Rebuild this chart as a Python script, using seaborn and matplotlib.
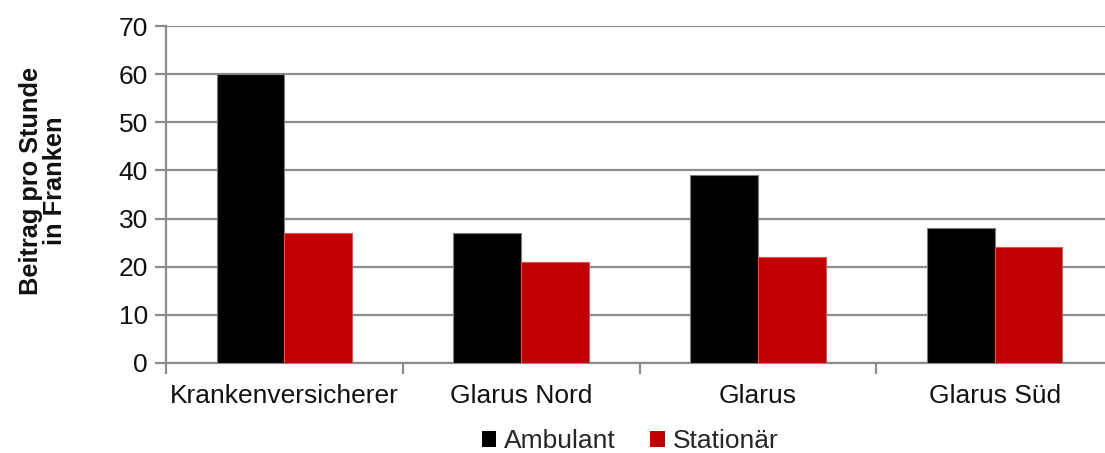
import matplotlib
matplotlib.use("Agg")
import matplotlib.pyplot as plt
from matplotlib.patches import Patch
import seaborn as sns
import pandas as pd

# Beiträge pro Stunde (Franken)
kategorien = ["Krankenversicherer", "Glarus Nord", "Glarus", "Glarus Süd"]
ambulant = [60, 27, 39, 28]
stationaer = [27, 21, 22, 24]
reihen = ["Ambulant", "Stationär"]
farben = ["#000000", "#C00000"]
y_ticks = [0, 10, 20, 30, 40, 50, 60, 70]

df = pd.DataFrame({
    "Kategorie": kategorien * 2,
    "Reihe": [reihen[0]] * len(kategorien) + [reihen[1]] * len(kategorien),
    "Wert": ambulant + stationaer,
})

sns.set_theme(style="white")
plt.rcParams["font.family"] = ["Liberation Sans", "DejaVu Sans"]

W, H = 1105, 453
fig = plt.figure(figsize=(W / 100, H / 100), dpi=100)
left, right, top, bottom = 166, 1113, 26, 363
ax = fig.add_axes([left / W, 1 - bottom / H, (right - left) / W, (bottom - top) / H])

sns.barplot(data=df, x="Kategorie", y="Wert", hue="Reihe", order=kategorien,
            hue_order=reihen, palette=farben, width=0.572, gap=0,
            saturation=1, ax=ax, legend=False, zorder=3)

for bar, ec in zip(ax.patches, ["#7f7f7f"] * 4 + ["#e05050"] * 4):
    bar.set_edgecolor(ec)
    bar.set_linewidth(0.8)

grid_c = "#8c8c8c"
txt_c = "#111111"
ax.set_ylim(0, 70)
ax.set_xlim(-0.5, len(kategorien) - 0.5)
ax.set_yticks(y_ticks)
ax.yaxis.grid(True, color=grid_c, linewidth=1.6, zorder=0)
ax.set_axisbelow(True)
for s in ["top", "right"]:
    ax.spines[s].set_visible(False)
for s in ["left", "bottom"]:
    ax.spines[s].set_color(grid_c)
    ax.spines[s].set_linewidth(1.6)

ax.tick_params(axis="y", which="major", direction="out", length=8, width=1.6,
               color=grid_c, labelsize=19, pad=5, left=True, labelcolor=txt_c)
ax.tick_params(axis="x", which="major", length=0, labelsize=19, pad=15, labelcolor=txt_c)
ax.set_xticks([i - 0.5 for i in range(len(kategorien) + 1)], minor=True)
ax.tick_params(axis="x", which="minor", direction="out", length=8, width=1.6,
               color=grid_c, bottom=True)
ax.set_xlabel("")
ax.set_ylabel("")

fig.text(43 / W, 1 - 181 / H, "Beitrag pro Stunde\nin Franken", rotation=90,
         ha="center", va="center", fontsize=18.3, fontweight="bold",
         linespacing=0.95, color=txt_c)

handles = [Patch(facecolor=c, edgecolor="none") for c in farben]
fig.legend(handles, reihen, loc="center", bbox_to_anchor=(630 / W, 1 - 441 / H),
           ncol=2, frameon=False, fontsize=19, handlelength=0.55, handleheight=0.55,
           handletextpad=0.3, columnspacing=1.3)

fig.savefig("out.png", dpi=100)
